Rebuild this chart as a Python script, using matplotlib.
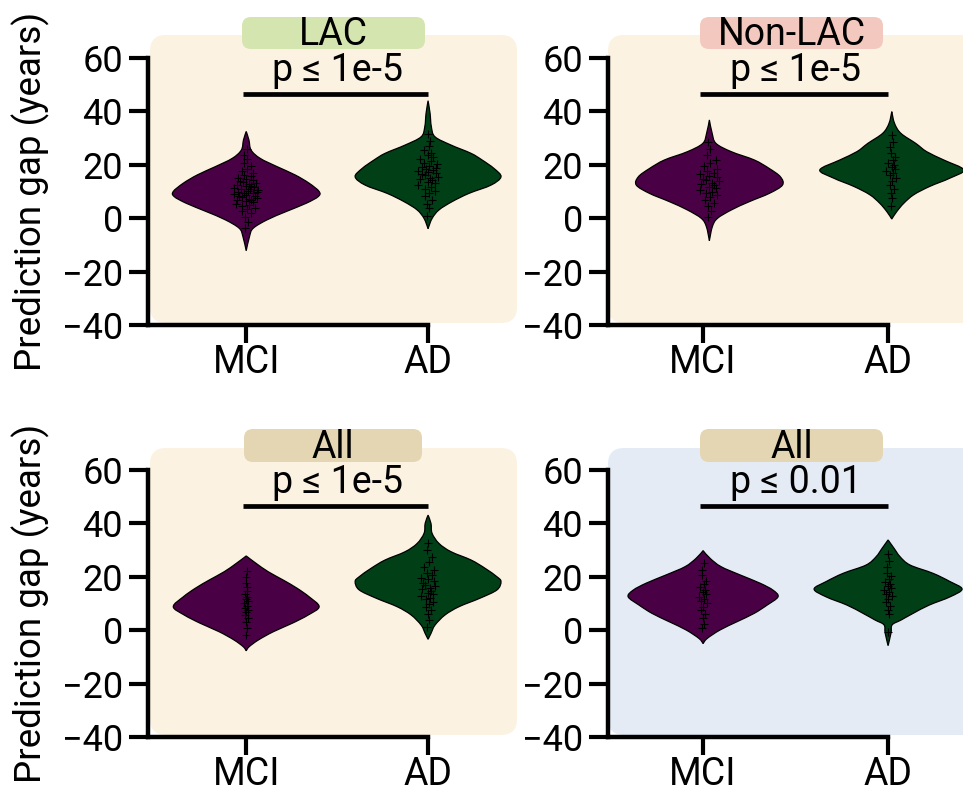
import numpy as np
import matplotlib
matplotlib.use("Agg")
from matplotlib import pyplot as plt
from matplotlib.patches import FancyBboxPatch, PathPatch
from matplotlib.path import Path

plt.rcParams['font.family'] = ['Roboto', 'DejaVu Sans']

## data
groups = ['MCI', 'AD']
titles = ['LAC', 'Non-LAC', 'All', 'All']
p_texts = ['p ≤ 1e-5', 'p ≤ 1e-5', 'p ≤ 1e-5', 'p ≤ 0.01']

# violin outlines: levels (years) and half widths (x units)
lac_mci_y = [32.5, 29.3, 25.5, 22.4, 19.3, 16.2, 13.1, 10.0, 8.1, 5.6, 2.5, -0.6, -3.8, -6.9, -12.2]
lac_mci_w = [0, .015, .027, .077, .170, .269, .346, .401, .396, .330, .220, .115, .038, .018, 0]
lac_ad_y = [44.0, 39.3, 34.3, 30.5, 27.4, 24.3, 21.8, 18.6, 15.5, 12.4, 9.3, 6.2, 3.1, -0.1, -3.9]
lac_ad_w = [0, .011, .018, .038, .126, .236, .297, .363, .401, .346, .225, .132, .060, .022, 0]

non_mci_y = [36.8, 31.8, 28.0, 24.9, 21.8, 18.6, 15.5, 12.4, 9.3, 6.2, 3.1, -0.1, -3.2, -8.4]
non_mci_w = [0, .015, .036, .119, .243, .324, .384, .395, .324, .216, .119, .043, .016, 0]
non_ad_y = [39.9, 35.5, 31.8, 28.0, 24.9, 21.8, 18.1, 15.0, 11.9, 8.8, 5.6, 2.5, -0.3]
non_ad_w = [0, .015, .049, .130, .189, .281, .389, .314, .205, .119, .065, .027, 0]

all_mci_y = [27.8, 25.0, 21.9, 18.8, 15.7, 12.5, 8.8, 5.7, 2.6, -0.6, -3.7, -6.2, -7.7]
all_mci_w = [0, .055, .121, .203, .280, .346, .401, .341, .253, .148, .066, .016, 0]
all_ad_y = [43.1, 40.0, 36.3, 32.5, 29.4, 26.3, 23.2, 20.0, 18.2, 15.1, 12.0, 8.8, 5.7, 1.9, -1.2, -3.4]
all_ad_w = [0, .016, .022, .060, .126, .236, .313, .379, .401, .379, .286, .170, .093, .038, .016, 0]

all2_mci_y = [29.8, 26.9, 23.8, 20.7, 17.6, 15.0, 12.5, 9.4, 6.3, 3.2, 0.1, -3.1, -5.0]
all2_mci_w = [0, .038, .097, .200, .308, .378, .405, .346, .276, .184, .092, .022, 0]
all2_ad_y = [33.8, 30.7, 27.5, 24.4, 21.3, 18.2, 15.4, 12.5, 9.4, 6.3, 3.8, 2.0, -1.0, -5.8]
all2_ad_w = [0, .032, .065, .119, .243, .335, .400, .335, .222, .135, .070, .022, .016, 0]

# individual subjects (years)
lac_mci_pts = [-3.8, -1.5, 0.5, 1.8, 2.7, 3.4, 4.0, 4.6, 5.1, 5.5, 5.9, 6.3, 6.7, 7.0, 7.3, 7.6, 7.9,
               8.2, 8.5, 8.8, 9.0, 9.3, 9.5, 9.8, 10.0, 10.3, 10.5, 10.8, 11.0, 11.3, 11.6, 11.9,
               12.2, 12.5, 12.8, 13.1, 13.5, 13.9, 14.3, 14.7, 15.2, 15.7, 16.3, 17.0, 17.8, 18.6,
               19.5, 20.6, 22.0, 23.8, 26.0]
lac_ad_pts = [1.0, 3.8, 5.5, 7.0, 8.2, 9.3, 10.2, 11.0, 11.8, 12.5, 13.1, 13.7, 14.2, 14.7, 15.2,
              15.6, 16.0, 16.4, 16.8, 17.2, 17.6, 18.0, 18.4, 18.8, 19.2, 19.7, 20.2, 20.7, 21.3,
              22.0, 22.8, 23.6, 24.5, 25.6, 27.0, 28.8, 31.5]
non_mci_pts = [0.5, 2.8, 4.5, 5.8, 6.9, 7.8, 8.6, 9.3, 10.0, 10.6, 11.2, 11.8, 12.3, 12.8, 13.3,
               13.8, 14.3, 14.8, 15.3, 15.8, 16.4, 17.0, 17.7, 18.5, 19.4, 20.5, 21.8, 23.5, 26.0, 28.5]
non_ad_pts = [4.5, 7.5, 9.5, 11.0, 12.5, 13.8, 15.0, 16.0, 17.0, 17.8, 18.5, 19.2, 20.0, 20.8,
              21.8, 23.0, 24.5, 26.5, 28.5, 31.0]
all_mci_pts = [-1.8, 1.0, 3.0, 4.5, 5.8, 6.8, 7.6, 8.4, 9.2, 10.0, 10.8, 11.6, 12.5, 13.5, 14.6,
               16.0, 17.8, 20.0, 22.0]
all_ad_pts = [1.3, 4.0, 6.0, 7.6, 8.8, 9.8, 10.7, 11.5, 12.2, 12.9, 13.5, 14.1, 14.7, 15.3, 15.9,
              16.5, 17.1, 17.7, 18.3, 19.0, 19.7, 20.5, 21.4, 22.5, 23.8, 25.5, 27.5, 30.0, 32.5]
all2_mci_pts = [0.7, 2.5, 4.5, 6.0, 7.5, 8.8, 10.0, 11.0, 11.8, 12.6, 13.4, 14.2, 15.0, 16.0,
                17.2, 18.5, 20.5, 22.5, 25.0]
all2_ad_pts = [-0.5, 6.0, 7.5, 9.0, 10.5, 11.8, 12.8, 13.6, 14.3, 15.0, 15.7, 16.4, 17.2, 18.0,
               19.0, 20.2, 21.5, 23.5, 26.0, 28.5]

## style
W, H = 963, 794
FS = 27
MCI_COL = '#4a0045'
AD_COL = '#013f17'
CREAM = '#fbf2e1'
BLUE = '#e5ebf5'
TAG_COLS = ['#d4e5b0', '#f3c9bf', '#e4d6b3', '#e4d6b3']
BG_COLS = [CREAM, CREAM, CREAM, BLUE]
JIT = [-0.9, 0.5, -0.2, 0.8, -0.6, 0.1, 0.95, -0.4, 0.3, -1.0, 0.65, -0.05, 0.4, -0.75, 0.2,
       0.85, -0.3, -0.55, 0.7, 0.0]

panels = [
    dict(violins=[(lac_mci_y, lac_mci_w, lac_mci_pts), (lac_ad_y, lac_ad_w, lac_ad_pts)],
         pos=[0, 1], jit=[0.18, 0.16]),
    dict(violins=[(non_mci_y, non_mci_w, non_mci_pts), (non_ad_y, non_ad_w, non_ad_pts)],
         pos=[0.034, 1.02], jit=[0.15, 0.08]),
    dict(violins=[(all_mci_y, all_mci_w, all_mci_pts), (all_ad_y, all_ad_w, all_ad_pts)],
         pos=[0, 1], jit=[0.03, 0.12]),
    dict(violins=[(all2_mci_y, all2_mci_w, all2_mci_pts), (all2_ad_y, all2_ad_w, all2_ad_pts)],
         pos=[0, 1], jit=[0.06, 0.06]),
]

# pixel layout: (axes left, axes right, xlim left, xlim right), rows: (top, bottom)
cols = [(148, 519, -0.54, 1.5), (608, 963, -0.514, 1.405)]
rows = [(58, 325), (470, 737)]
bg_boxes = [(150, 35, 517, 323), (608, 35, 990, 323), (150, 448, 517, 735), (608, 448, 990, 735)]
tag_boxes = [(242, 17, 425, 49), (700, 17, 883, 49), (244, 429, 422, 462), (700, 429, 883, 462)]


def smooth_side(pts):
    # catmull-rom through the read outline points, as bezier segments
    verts = [pts[0]]
    codes = []
    n = len(pts)
    for i in range(n - 1):
        p0 = pts[max(i - 1, 0)]
        p1 = pts[i]
        p2 = pts[i + 1]
        p3 = pts[min(i + 2, n - 1)]
        c1 = p1 + (p2 - p0) / 6.0
        c2 = p2 - (p3 - p1) / 6.0
        verts += [c1, c2, p2]
        codes += [Path.CURVE4] * 3
    return verts, codes


def violin_path(center, ys, ws):
    ys = np.array(ys, float)
    ws = np.array(ws, float)
    right = np.column_stack([center + ws, ys])
    left = np.column_stack([center - ws, ys])[::-1]
    v1, c1 = smooth_side(right)
    v2, c2 = smooth_side(left)
    verts = v1 + v2[1:] + [v1[0]]
    codes = [Path.MOVETO] + c1 + c2 + [Path.CLOSEPOLY]
    return Path(np.array(verts), codes)


fig = plt.figure(figsize=(W / 100, H / 100), dpi=100)

for k in range(4):
    r, c = divmod(k, 2)
    x0, x1, xl, xr = cols[c]
    top, bot = rows[r]

    # rounded background and tag box
    bx0, by0, bx1, by1 = bg_boxes[k]
    fig.add_artist(FancyBboxPatch((bx0 / W, 1 - by1 / H), (bx1 - bx0) / W, (by1 - by0) / H,
                                  boxstyle='round,pad=0,rounding_size=%f' % (16 / W),
                                  mutation_aspect=W / H, transform=fig.transFigure,
                                  fc=BG_COLS[k], ec='none', zorder=-5))
    tx0, ty0, tx1, ty1 = tag_boxes[k]
    fig.add_artist(FancyBboxPatch((tx0 / W, 1 - ty1 / H), (tx1 - tx0) / W, (ty1 - ty0) / H,
                                  boxstyle='round,pad=0,rounding_size=%f' % (9 / W),
                                  mutation_aspect=W / H, transform=fig.transFigure,
                                  fc=TAG_COLS[k], ec='none', zorder=-4))
    fig.text((tx0 + tx1) / 2 / W, 1 - (ty1 - 4) / H, titles[k], fontsize=FS,
             ha='center', va='baseline')

    ax = fig.add_axes([x0 / W, 1 - bot / H, (x1 - x0) / W, (bot - top) / H])
    ax.set_facecolor('none')
    ax.set_xlim(xl, xr)
    ax.set_ylim(-40, 60)

    p = panels[k]
    for g in range(2):
        ys, ws, pts = p['violins'][g]
        col = MCI_COL if g == 0 else AD_COL
        ctr = p['pos'][g]
        ax.add_patch(PathPatch(violin_path(ctr, ys, ws), fc=col, ec='black', lw=0.9, zorder=2))
        pts = np.array(pts)
        local_w = np.interp(pts, ys[::-1], ws[::-1])
        jit = np.array([JIT[i % len(JIT)] for i in range(len(pts))])
        ax.plot(ctr + jit * p['jit'][g] * local_w, pts, '+', color='black', ms=6, mew=0.8, zorder=3)

    # significance bracket
    ax.plot([-0.015, 1.0], [46.5, 46.5], color='black', lw=3.4, clip_on=False,
            solid_capstyle='butt')
    ax.text(0.5, 51.2, p_texts[k], ha='center', va='baseline', fontsize=FS)

    ax.set_xticks([0, 1])
    ax.set_xticklabels(groups, fontsize=FS)
    ax.set_yticks(np.arange(-40, 61, 20))
    ax.tick_params(axis='y', labelsize=26, length=14, width=3.0, pad=4)
    ax.tick_params(axis='x', length=13, width=3.0, pad=1)
    for s in ['top', 'right']:
        ax.spines[s].set_visible(False)
    ax.spines['left'].set_linewidth(3.2)
    ax.spines['bottom'].set_linewidth(3.2)
    ax.spines['bottom'].set_bounds(xl, 1.0)

    if c == 0:
        fig.text(31 / W, 1 - (top + bot) / 2 / H, 'Prediction gap (years)', rotation=90,
                 fontsize=26.5, ha='center', va='center')

fig.savefig('out.png', dpi=100)
